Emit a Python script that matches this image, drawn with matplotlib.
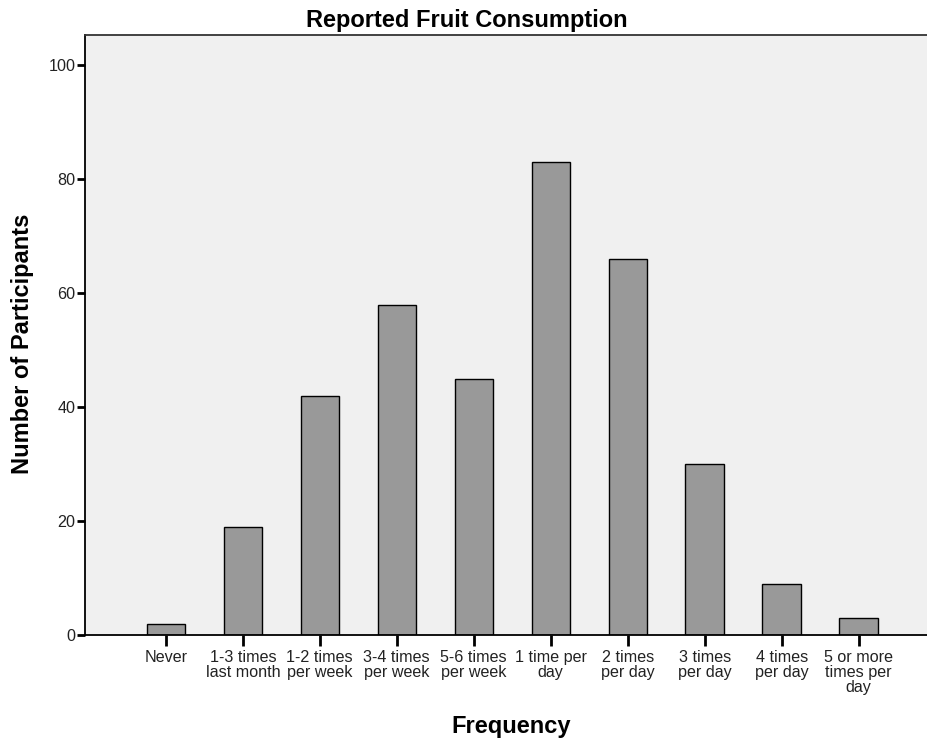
import matplotlib.pyplot as plt
import numpy as np

plt.rcParams['font.family'] = ['Liberation Sans', 'DejaVu Sans']

# Reported fruit consumption frequencies
categories = ['Never', '1-3 times\nlast month', '1-2 times\nper week', '3-4 times\nper week',
              '5-6 times\nper week', '1 time per\nday', '2 times\nper day', '3 times\nper day',
              '4 times\nper day', '5 or more\ntimes per\nday']
counts = [2, 19, 42, 58, 45, 83, 66, 30, 9, 3]
y_ticks = [0, 20, 40, 60, 80, 100]

fig = plt.figure(figsize=(9.28, 7.44), dpi=100)
ax = fig.add_axes([85 / 928, 109 / 744, 1 - 85 / 928, 600 / 744])
ax.set_facecolor('#f0f0f0')

x = np.arange(len(categories))
ax.bar(x, counts, width=0.5, color='#999999', edgecolor='black', linewidth=1.0, zorder=2)

ax.set_xlim(-1.05, 9.9)
ax.set_ylim(0, 105.3)
ax.set_xticks(x)
ax.set_xticklabels(categories, fontsize=11.6, color='#222222', linespacing=1.0)
ax.set_yticks(y_ticks)
ax.set_yticklabels([str(v) for v in y_ticks], fontsize=11.6, color='#222222')
ax.tick_params(axis='x', length=8, width=2, pad=3)
ax.tick_params(axis='y', length=6, width=2, pad=1)

ax.spines['right'].set_visible(False)
ax.spines['top'].set_color('#333333')
ax.spines['left'].set_linewidth(1.3)
ax.spines['bottom'].set_linewidth(1.3)
ax.spines['top'].set_linewidth(1.3)

fig.text(23 / 928, 1 - 344 / 744, 'Number of Participants', fontsize=17, fontweight='bold',
         rotation=90, ha='center', va='center')
fig.text(511 / 928, 1 - 726 / 744, 'Frequency', fontsize=17, fontweight='bold',
         ha='center', va='center')
fig.text(467 / 928, 1 - 20 / 744, 'Reported Fruit Consumption', fontsize=17, fontweight='bold',
         ha='center', va='center')

fig.savefig('out.png', dpi=100)
